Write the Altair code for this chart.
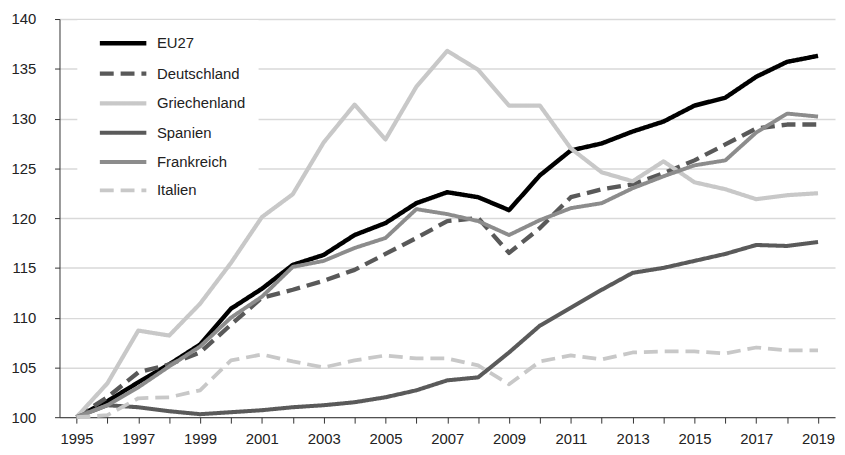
import altair as alt
import pandas as pd

years = list(range(1995, 2020))

eu27 = [100, 101.6, 103.5, 105.3, 107.3, 110.9, 112.9, 115.3, 116.3, 118.3, 119.5, 121.5, 122.6, 122.1, 120.8,
        124.3, 126.8, 127.5, 128.7, 129.7, 131.3, 132.1, 134.2, 135.7, 136.3]
deutschland = [100, 102.0, 104.5, 105.3, 106.5, 109.3, 112.0, 112.8, 113.7, 114.8, 116.4, 118.0, 119.7, 120.0, 116.5,
               119.0, 122.1, 122.9, 123.4, 124.5, 125.8, 127.4, 129.0, 129.4, 129.4]
griechenland = [100, 103.4, 108.7, 108.2, 111.4, 115.5, 120.1, 122.4, 127.6, 131.4, 127.9, 133.2, 136.8, 134.9, 131.3,
                131.3, 127.0, 124.6, 123.7, 125.7, 123.6, 122.9, 121.9, 122.3, 122.5]
spanien = [100, 101.2, 101.0, 100.6, 100.3, 100.5, 100.7, 101.0, 101.2, 101.5, 102.0, 102.7, 103.7, 104.0, 106.5,
           109.2, 111.0, 112.8, 114.5, 115.0, 115.7, 116.4, 117.3, 117.2, 117.6]
frankreich = [100, 101.2, 103.0, 105.1, 107.1, 110.0, 112.1, 115.1, 115.7, 117.0, 118.0, 120.9, 120.4, 119.7, 118.3,
              119.8, 121.0, 121.5, 123.0, 124.2, 125.3, 125.8, 128.6, 130.5, 130.2]
italien = [100, 100.2, 101.9, 102.0, 102.7, 105.7, 106.3, 105.6, 105.0, 105.7, 106.2, 105.9, 105.9, 105.2, 103.3,
           105.6, 106.2, 105.8, 106.5, 106.6, 106.6, 106.4, 107.0, 106.7, 106.7]

series_names = ["EU27", "Deutschland", "Griechenland", "Spanien", "Frankreich", "Italien"]
series_values = [eu27, deutschland, griechenland, spanien, frankreich, italien]
series_colors = ["#000000", "#595959", "#c8c8c8", "#5a5a5a", "#8c8c8c", "#c8c8c8"]
series_dash = [[1, 0], [14, 7], [1, 0], [1, 0], [1, 0], [14, 7]]
series_width = [4.5, 3.8, 3.8, 3.8, 3.8, 3.8]

rows = []
for i, (name, vals) in enumerate(zip(series_names, series_values)):
    for y, v in zip(years, vals):
        rows.append({"Jahr": y, "Wert": v, "Serie": name, "order": i})
df = pd.DataFrame(rows)

FONT = "Liberation Sans, Arial, sans-serif"

chart = alt.Chart(df).mark_line(strokeCap="butt", strokeJoin="round").encode(
    x=alt.X("Jahr:Q",
            scale=alt.Scale(domain=[1994.45, 2019.55], nice=False, zero=False),
            axis=alt.Axis(values=years, format="d", grid=False, title=None,
                          labelExpr="datum.value % 2 == 1 ? datum.label : ''",
                          tickSize=6, tickColor="#333333", domainColor="#333333",
                          labelFontSize=15, labelPadding=9, labelColor="#222222",
                          labelFont=FONT)),
    y=alt.Y("Wert:Q",
            scale=alt.Scale(domain=[100, 140], nice=False, zero=False),
            axis=alt.Axis(values=list(range(100, 141, 5)), title=None, grid=True,
                          gridColor="#d9d9d9", gridWidth=1.5, tickSize=5,
                          tickColor="#333333", domainColor="#333333",
                          labelFontSize=15, labelPadding=19, labelColor="#222222",
                          labelFont=FONT)),
    color=alt.Color("Serie:N", scale=alt.Scale(domain=series_names, range=series_colors),
                    title=None,
                    legend=alt.Legend(orient="none", legendX=18, legendY=1, padding=13,
                                      fillColor="white", symbolType="M-3,0H3", symbolSize=245,
                                      symbolStrokeWidth=4.5, symbolOffset=22.7,
                                      labelFontSize=15, labelFont=FONT, labelColor="#222222",
                                      labelOffset=23.7, rowPadding=10.6, labelLimit=300)),
    strokeDash=alt.StrokeDash("Serie:N", scale=alt.Scale(domain=series_names, range=series_dash),
                              title=None, legend=None),
    strokeWidth=alt.StrokeWidth("Serie:N", scale=alt.Scale(domain=series_names, range=series_width),
                                title=None, legend=None),
    detail="Serie:N",
    order=alt.Order("Jahr:Q"),
).properties(
    width=783, height=402,
    autosize=alt.AutoSizeParams(type="none"),
    padding={"left": 52, "top": 9, "right": 2, "bottom": 30},
).configure_view(stroke=None)

chart.save("out.html", embed_options={"renderer": "svg", "actions": False})
